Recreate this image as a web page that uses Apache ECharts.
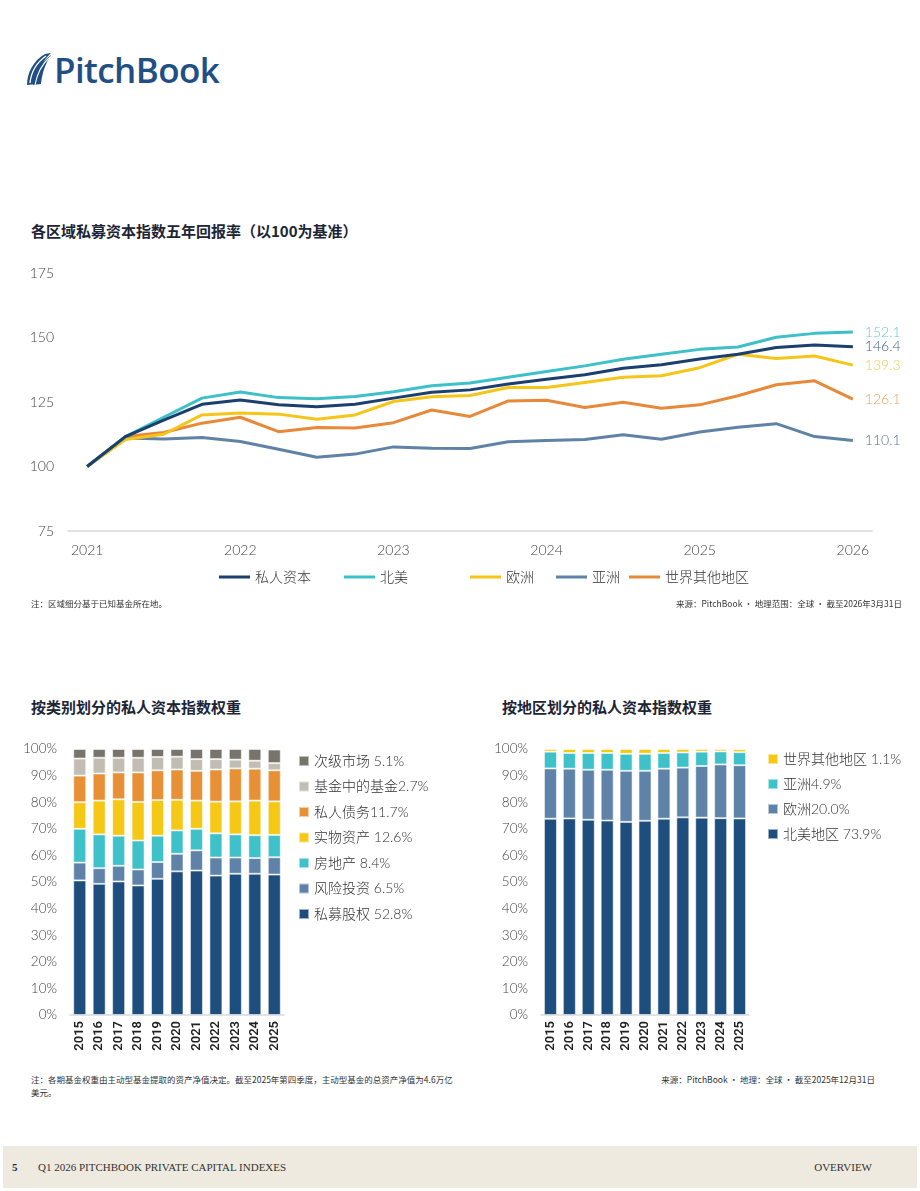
<!DOCTYPE html>
<html>
<head>
<meta charset="utf-8">
<script src="https://cdn.jsdelivr.net/npm/echarts@6/dist/echarts.min.js"></script>
<style>
  body { margin: 0; background: #fff; }
  .page { position: relative; width: 920px; height: 1191px; overflow: hidden; font-family: Lato, "Noto Sans CJK SC", sans-serif; }
  .logo { position: absolute; left: 26px; top: 51px; height: 36px; display: flex; align-items: center; }
  .logo span { font-family: "Open Sans", sans-serif; font-weight: 600; font-size: 35px; color: #214f84; letter-spacing: -0.6px; margin-left: 2px; }
  .title { position: absolute; font-family: "Noto Sans CJK SC", sans-serif; font-weight: 700; font-size: 15px; color: #1b2535; }
  .note { position: absolute; font-family: "Noto Sans CJK SC", serif; font-size: 8.5px; color: #333; line-height: 12.5px; white-space: nowrap; }
  .chart { position: absolute; }
  .footer { position: absolute; left: 3px; top: 1146px; width: 914px; height: 42px; background: #eeeae0; font-family: "Liberation Serif", serif; font-size: 11px; color: #333; }
</style>
</head>
<body>
<div class="page">
  <div class="logo">
    <svg width="26" height="34" viewBox="0 0 26 34">
      <path d="M1 33 C1 21 7 9 19 2 L25 1 C16 9 12 20 11 32 Z" fill="#214f84"/>
      <path d="M7 33 C9 22 14 11 25 3 C19 12 16 22 15 32 Z" fill="#214f84"/>
      <path d="M4 31 C5 21 10 11 20 4" stroke="#fff" stroke-width="1.3" fill="none"/>
      <path d="M9 33 C11 22 16 12 24 5" stroke="#fff" stroke-width="1.1" fill="none"/>
    </svg>
    <span>PitchBook</span>
  </div>

  <div class="title" style="left:31px; top:220px;">各区域私募资本指数五年回报率（以100为基准）</div>
  <div id="lineChart" class="chart" style="left:0; top:250px; width:920px; height:350px;"></div>
  <div class="note" style="left:31px; top:597px;">注：区域细分基于已知基金所在地。</div>
  <div class="note" style="right:18px; top:597px;">来源：PitchBook · 地理范围：全球 · 截至2026年3月31日</div>

  <div class="title" style="left:31px; top:696px;">按类别划分的私人资本指数权重</div>
  <div class="title" style="left:502px; top:696px;">按地区划分的私人资本指数权重</div>
  <div id="typeChart" class="chart" style="left:0; top:730px; width:460px; height:330px;"></div>
  <div id="regionChart" class="chart" style="left:460px; top:730px; width:460px; height:330px;"></div>
  <div class="note" style="left:31px; top:1073px;">注：各期基金权重由主动型基金提取的资产净值决定。截至2025年第四季度，主动型基金的总资产净值为4.6万亿<br>美元。</div>
  <div class="note" style="right:45px; top:1073px;">来源：PitchBook · 地理：全球 · 截至2025年12月31日</div>

  <div class="footer">
    <span style="position:absolute; left:9px; top:15px; font-weight:700; color:#1b2f55;">5</span>
    <span style="position:absolute; left:35px; top:15px;">Q1 2026 PITCHBOOK PRIVATE CAPITAL INDEXES</span>
    <span style="position:absolute; right:45px; top:15px;">OVERVIEW</span>
  </div>
</div>

<script>
// ---- data: 5-year index returns (2021Q1 = 100)
var quarters = ['2021Q1','2021Q2','2021Q3','2021Q4','2022Q1','2022Q2','2022Q3','2022Q4',
  '2023Q1','2023Q2','2023Q3','2023Q4','2024Q1','2024Q2','2024Q3','2024Q4',
  '2025Q1','2025Q2','2025Q3','2025Q4','2026Q1'];
var lineNames = ['私人资本', '北美', '欧洲', '亚洲', '世界其他地区'];
var privateCapital = [100, 111.6, 118.0, 124.1, 125.8, 123.9, 123.2, 124.1, 126.5, 128.8, 129.7, 132.0, 133.8, 135.6, 138.1, 139.4, 141.7, 143.5, 146.1, 147.1, 146.4];
var northAmerica   = [100, 111.6, 119.1, 126.5, 128.9, 126.7, 126.3, 127.1, 129.0, 131.3, 132.4, 134.6, 136.8, 139.0, 141.6, 143.5, 145.4, 146.3, 150.1, 151.6, 152.1];
var europe         = [100, 110.5, 112.5, 120.0, 120.7, 120.3, 118.3, 120.0, 125.2, 127.0, 127.5, 130.6, 130.6, 132.6, 134.6, 135.2, 138.3, 143.5, 141.9, 142.8, 139.3];
var asia           = [100, 111.0, 110.7, 111.2, 109.7, 106.7, 103.6, 104.8, 107.6, 107.1, 107.0, 109.6, 110.1, 110.5, 112.3, 110.6, 113.4, 115.2, 116.6, 111.6, 110.1];
var restOfWorld    = [100, 111.6, 113.2, 116.8, 119.1, 113.5, 115.1, 114.9, 117.0, 121.9, 119.4, 125.4, 125.7, 122.9, 124.9, 122.6, 123.9, 127.4, 131.7, 133.2, 126.1];
var yTicks = [75, 100, 125, 150, 175];

// ---- data: weights by type (%), 2015-2025
var years = ['2015','2016','2017','2018','2019','2020','2021','2022','2023','2024','2025'];
var typeNames = ['私募股权', '风险投资', '房地产', '实物资产', '私人债务', '基金中的基金', '次级市场'];
var typeLegend = ['私募股权 52.8%', '风险投资 6.5%', '房地产 8.4%', '实物资产 12.6%', '私人债务11.7%', '基金中的基金2.7%', '次级市场 5.1%'];
var privateEquity = [50.6, 49.3, 50.2, 48.7, 51.2, 54.0, 54.3, 52.4, 53.1, 53.1, 52.8];
var ventureCapital = [6.7, 5.9, 5.9, 6.0, 6.3, 6.6, 7.6, 6.8, 6.1, 5.9, 6.5];
var realEstate = [12.7, 12.7, 11.3, 10.9, 9.9, 8.8, 8.1, 9.1, 8.7, 8.6, 8.4];
var realAssets = [10.0, 12.7, 13.7, 14.5, 13.4, 11.5, 10.6, 11.9, 12.4, 13.0, 12.6];
var privateDebt = [10.0, 10.2, 10.1, 11.1, 11.2, 11.4, 11.2, 12.1, 12.4, 12.0, 11.7];
var fundOfFunds = [6.4, 5.9, 5.5, 5.5, 5.0, 4.8, 4.4, 3.9, 3.3, 3.0, 2.7];
var secondaries = [3.6, 3.3, 3.3, 3.3, 3.0, 2.9, 3.8, 3.8, 4.0, 4.4, 5.1];

// ---- data: weights by region (%), 2015-2025
var regionNames = ['北美地区', '欧洲', '亚洲', '世界其他地区'];
var regionLegend = ['北美地区 73.9%', '欧洲20.0%', '亚洲4.9%', '世界其他地区 1.1%'];
var naShare = [73.8, 73.9, 73.4, 73.1, 72.6, 73.0, 73.8, 74.3, 74.2, 74.0, 73.9];
var euShare = [18.9, 18.7, 18.8, 19.1, 19.2, 18.8, 18.8, 18.7, 19.4, 20.2, 20.0];
var asiaShare = [6.3, 5.9, 6.3, 6.3, 6.4, 6.4, 5.9, 5.7, 5.4, 4.9, 4.9];
var rowShare = [1.0, 1.5, 1.5, 1.5, 1.8, 1.8, 1.5, 1.3, 1.0, 0.9, 1.1];

var numFont = 'Lato, "Noto Sans CJK SC", sans-serif';
var lineColors = ['#1b3f6e', '#3ec0c8', '#f5c519', '#5f82a6', '#e8893a'];
var endLabelColors = ['#3d5f8c', '#5fcdd3', '#f5c94a', '#5f6f84', '#eea061'];
var legendLeft = [219, 344, 470, 556, 629];

// ---------------- line chart
var lineChart = echarts.init(document.getElementById('lineChart'));
var lineSeriesData = [privateCapital, northAmerica, europe, asia, restOfWorld];
var lineSeries = lineNames.map(function (name, i) {
  return {
    name: name,
    type: 'line',
    data: lineSeriesData[i],
    symbol: 'none',
    z: 10 - i,
    lineStyle: { width: 3, color: lineColors[i] },
    itemStyle: { color: lineColors[i] },
    endLabel: {
      show: true,
      distance: 12,
      color: endLabelColors[i],
      fontFamily: numFont,
      fontWeight: 300,
      fontSize: 14,
      formatter: function (p) { return p.value.toFixed(1); }
    }
  };
});
lineChart.setOption({
  animation: false,
  grid: { left: 68, right: 48, top: 23, height: 258 },
  legend: lineNames.map(function (name, i) {
    return {
      data: [name], left: legendLeft[i], top: 320, padding: 0,
      icon: 'rect', itemWidth: 31, itemHeight: 3,
      textStyle: { fontFamily: numFont, fontWeight: 300, fontSize: 14, color: '#333' }
    };
  }),
  xAxis: {
    type: 'category',
    data: quarters,
    boundaryGap: true,
    axisLine: { lineStyle: { color: '#d9d9d9', width: 1.5 } },
    axisTick: { show: false },
    axisLabel: {
      interval: 3, margin: 12, color: '#444', fontSize: 14, fontWeight: 300, fontFamily: numFont,
      formatter: function (v) { return v.slice(0, 4); }
    }
  },
  yAxis: {
    type: 'value', min: yTicks[0], max: yTicks[yTicks.length - 1], interval: 25,
    axisLine: { show: false }, axisTick: { show: false }, splitLine: { show: false },
    axisLabel: { margin: 14, color: '#444', fontSize: 14, fontWeight: 300, fontFamily: numFont }
  },
  series: lineSeries
});

// ---------------- stacked bars helper
function stackedBars(dom, names, legendNames, data, colors, gridLeft, gridWidth, legendLeftPos, legendTop, legendGap) {
  var chart = echarts.init(dom);
  var labelOf = {};
  names.forEach(function (n, i) { labelOf[n] = legendNames[i]; });
  chart.setOption({
    animation: false,
    grid: { left: gridLeft, width: gridWidth, top: 19, height: 266 },
    legend: {
      orient: 'vertical', left: legendLeftPos, top: legendTop, padding: 0,
      data: names.slice().reverse(),
      icon: 'rect', itemWidth: 10, itemHeight: 10, itemGap: legendGap,
      formatter: function (n) { return labelOf[n]; },
      textStyle: { fontFamily: numFont, fontWeight: 300, fontSize: 14, color: '#333', lineHeight: 16 }
    },
    xAxis: {
      type: 'category', data: years,
      axisLine: { lineStyle: { color: '#d9d9d9', width: 1.5 } },
      axisTick: { show: false },
      axisLabel: { rotate: 90, margin: 6, interval: 0, color: '#222', fontSize: 13, fontWeight: 600, fontFamily: 'Roboto, sans-serif' }
    },
    yAxis: {
      type: 'value', min: 0, max: 100, interval: 10,
      axisLine: { show: false }, axisTick: { show: false }, splitLine: { show: false },
      axisLabel: { formatter: '{value}%', margin: 13, color: '#444', fontSize: 13.5, fontWeight: 300, fontFamily: numFont }
    },
    series: names.map(function (n, i) {
      return {
        name: n, type: 'bar', stack: 'total', barWidth: 13,
        data: data[i],
        itemStyle: { color: colors[i], borderColor: 'rgba(255,255,255,0.55)', borderWidth: 1 }
      };
    })
  });
  return chart;
}

stackedBars(document.getElementById('typeChart'), typeNames, typeLegend,
  [privateEquity, ventureCapital, realEstate, realAssets, privateDebt, fundOfFunds, secondaries],
  ['#1d4e7e', '#5f83a8', '#3fc1c9', '#f5c816', '#e89035', '#c1bdb3', '#77746b'],
  70, 214, 298, 23, 9.5);

stackedBars(document.getElementById('regionChart'), regionNames, regionLegend,
  [naShare, euShare, asiaShare, rowShare],
  ['#1d4e7e', '#5f83a8', '#3fc1c9', '#f5c816'],
  81, 208, 307, 21, 9);
</script>
</body>
</html>
